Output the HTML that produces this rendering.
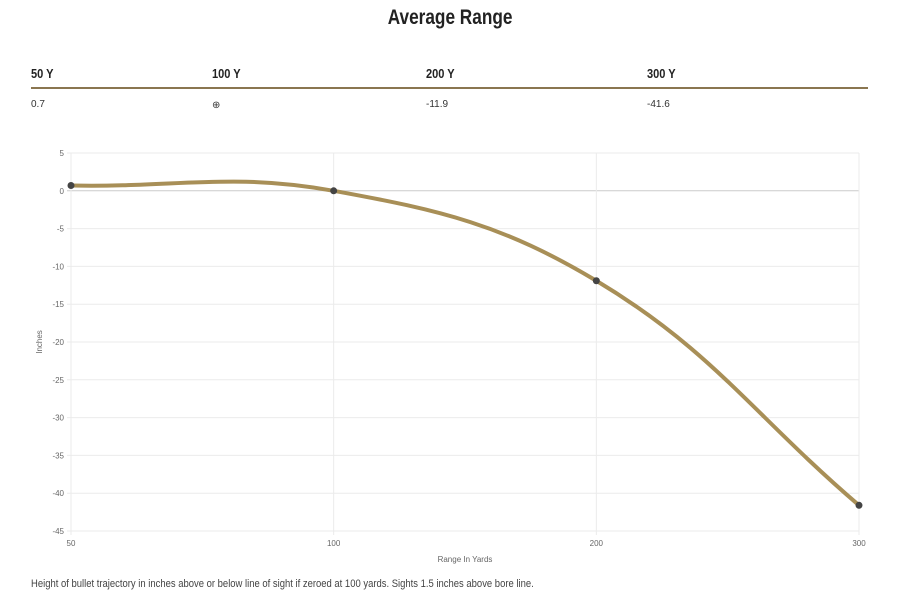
<!DOCTYPE html>
<html><head><meta charset="utf-8"><style>
body{margin:0;width:900px;height:603px;background:#fff;font-family:"Liberation Sans",sans-serif;position:relative;overflow:hidden}
.t{position:absolute;font-weight:bold;color:#222}
.h{position:absolute;top:66px;font-weight:bold;font-size:13px;color:#222;transform:scaleX(.85);transform-origin:left}
.v{position:absolute;top:99px;font-size:10px;color:#333}
</style></head><body>
<div class="t" style="left:0;width:900px;top:6px;text-align:center;font-size:21px"><span style="display:inline-block;transform:scaleX(.82)">Average Range</span></div>
<div class="h" style="left:31px">50 Y</div>
<div class="h" style="left:212px">100 Y</div>
<div class="h" style="left:426px">200 Y</div>
<div class="h" style="left:647px">300 Y</div>
<div style="position:absolute;left:31px;top:87px;width:837px;height:2px;background:#8a7650"></div>
<div class="v" style="left:31px">0.7</div>
<div class="v" style="left:212px;top:100px">⊕</div>
<div class="v" style="left:426px">-11.9</div>
<div class="v" style="left:647px">-41.6</div>
<svg id="c" width="900" height="603" style="position:absolute;left:0;top:0" font-family="Liberation Sans, sans-serif"></svg>
<div style="position:absolute;left:31px;top:578px;font-size:11px;color:#444;transform:scaleX(.86);transform-origin:left;white-space:nowrap">Height of bullet trajectory in inches above or below line of sight if zeroed at 100 yards. Sights 1.5 inches above bore line.</div>
<script>
const categories=["50","100","200","300"];
const values=[0.7,0,-11.9,-41.6];
const yTicks=[5,0,-5,-10,-15,-20,-25,-30,-35,-40,-45];
const svg=document.getElementById('c');
const NS='http://www.w3.org/2000/svg';
const x0=71,x1=859,yTop=153,yBot=531,ymax=5,ymin=-45;
const X=i=>x0+(x1-x0)*i/(categories.length-1);
const Y=v=>yTop+(ymax-v)/(ymax-ymin)*(yBot-yTop);
function mk(t,a,p){const e=document.createElementNS(NS,t);for(const k in a)e.setAttribute(k,a[k]);(p||svg).appendChild(e);return e;}
yTicks.forEach(v=>{
const l=mk('line',{x1:x0-4,x2:x1,y1:Y(v),y2:Y(v),stroke:v===0?'#ccc':'#ebebeb','stroke-width':1});


const t=mk('text',{x:x0-7,y:Y(v)+3,'text-anchor':'end','font-size':8,fill:'#666'});t.textContent=v;


});
categories.forEach((c,i)=>{
const l=mk('line',{x1:X(i),x2:X(i),y1:yTop,y2:yBot+4,stroke:'#ebebeb','stroke-width':1});


const t=mk('text',{x:X(i),y:yBot+15,'text-anchor':'middle','font-size':8,fill:'#666'});t.textContent=c;


});
let t=mk('text',{x:(x0+x1)/2,y:562,'text-anchor':'middle','font-size':8,fill:'#666'});t.textContent='Range In Yards';


t=mk('text',{x:0,y:0,'text-anchor':'middle','font-size':8,fill:'#666',transform:`translate(42,${(yTop+yBot)/2}) rotate(-90)`});t.textContent='Inches';


const pts=values.map((v,i)=>({x:X(i),y:Y(v)}));
const ten=0.4,cps=[];
pts.forEach((p,i)=>{const a=pts[i-1]||p,b=pts[i+1]||p;
const d01=Math.hypot(p.x-a.x,p.y-a.y),d12=Math.hypot(b.x-p.x,b.y-p.y);
let s01=d01/(d01+d12),s12=d12/(d01+d12);if(isNaN(s01))s01=0;if(isNaN(s12))s12=0;
cps.push({px:p.x-ten*s01*(b.x-a.x),py:p.y-ten*s01*(b.y-a.y),nx:p.x+ten*s12*(b.x-a.x),ny:p.y+ten*s12*(b.y-a.y)});});
let d=`M${pts[0].x},${pts[0].y}`;
for(let i=1;i<pts.length;i++)d+=` C${cps[i-1].nx},${cps[i-1].ny} ${cps[i].px},${cps[i].py} ${pts[i].x},${pts[i].y}`;
const path=mk('path',{d,fill:'none',stroke:'#a88f57','stroke-width':4,'stroke-linecap':'round'});


pts.forEach(p=>{const c=mk('circle',{cx:p.x,cy:p.y,r:3.5,fill:'#444'});

});
</script>
</body></html>
